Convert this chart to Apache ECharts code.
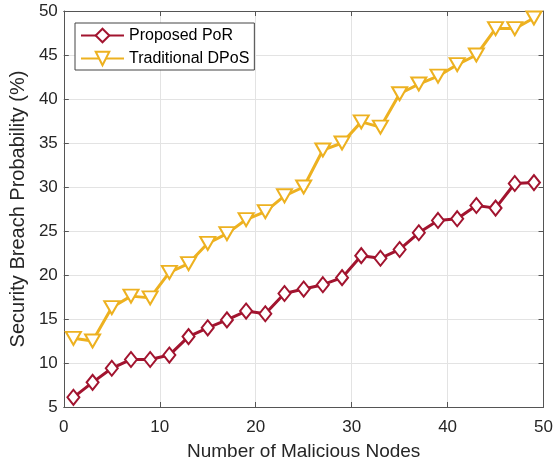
<!DOCTYPE html>
<html>
<head>
<meta charset="utf-8">
<script src="https://cdn.jsdelivr.net/npm/echarts@6/dist/echarts.min.js"></script>
<style>
html,body{margin:0;padding:0;background:#fff;}
#chart{width:556px;height:466px;}
</style>
</head>
<body>
<div id="chart"></div>
<script>
const nodeCounts = [1,3,5,7,9,11,13,15,17,19,21,23,25,27,29,31,33,35,37,39,41,43,45,47,49];
const porValues = [6.1,7.8,9.4,10.4,10.4,10.9,13.0,14.0,14.9,15.9,15.6,17.9,18.4,18.9,19.7,22.2,21.9,22.9,24.8,26.2,26.4,27.9,27.6,30.4,30.5];
const dposValues = [12.8,12.5,16.3,17.6,17.4,20.3,21.3,23.6,24.7,26.3,27.2,29.0,30.0,34.2,35.0,37.4,36.8,40.6,41.7,42.6,43.9,45.0,48.0,48.0,49.2];
const seriesNames = ['Proposed PoR', 'Traditional DPoS'];
const xTitle = 'Number of Malicious Nodes';
const yTitle = 'Security Breach Probability (%)';

const FONT = "'Liberation Sans', Arial, Helvetica, sans-serif";
const TXT = '#262626';
const AX = '#555555';
const GRIDC = '#e3e3e3';

function pairs(vals){ return nodeCounts.map((x,i)=>[x, vals[i]]); }

const chart = echarts.init(document.getElementById('chart'), null, {renderer:'canvas'});
chart.setOption({
  animation: false,
  backgroundColor: '#fff',
  textStyle: {fontFamily: FONT},
  grid: {left: 63, right: 8, top: 11, bottom: 58, containLabel: false},
  legend: {
    orient: 'vertical', left: 75, top: 23,
    backgroundColor: '#fff', borderColor: '#444', borderWidth: 1,
    padding: [4, 5, 3, 5], itemGap: 6, itemWidth: 43, itemHeight: 17,
    textStyle: {fontSize: 16, color: '#000', fontFamily: FONT, lineHeight: 17},
    data: seriesNames
  },
  xAxis: [{
    type: 'value', min: 0, max: 50, interval: 10,
    name: xTitle, nameLocation: 'middle', nameGap: 35,
    nameTextStyle: {fontSize: 19, color: TXT, fontFamily: FONT},
    axisLine: {show: true, onZero: false, lineStyle: {color: AX, width: 1}},
    axisTick: {show: true, inside: true, length: 5, lineStyle: {color: AX}},
    axisLabel: {fontSize: 17, color: TXT, margin: 12, fontFamily: FONT},
    splitLine: {show: true, lineStyle: {color: GRIDC, width: 1}}
  }, {
    type: 'value', min: 0, max: 50, interval: 10, position: 'top',
    axisLine: {show: true, onZero: false, lineStyle: {color: AX, width: 1}},
    axisTick: {show: true, inside: true, length: 5, lineStyle: {color: AX}},
    axisLabel: {show: false}, splitLine: {show: false}
  }],
  yAxis: [{
    type: 'value', min: 5, max: 50, interval: 5,
    name: yTitle, nameLocation: 'middle', nameGap: 27, nameRotate: 90,
    nameTextStyle: {fontSize: 20, color: TXT, fontFamily: FONT},
    axisLine: {show: true, onZero: false, lineStyle: {color: AX, width: 1}},
    axisTick: {show: true, inside: true, length: 5, lineStyle: {color: AX}},
    axisLabel: {fontSize: 17, color: TXT, margin: 6, fontFamily: FONT},
    splitLine: {show: true, lineStyle: {color: GRIDC, width: 1}}
  }, {
    type: 'value', min: 5, max: 50, interval: 5, position: 'right',
    axisLine: {show: true, onZero: false, lineStyle: {color: AX, width: 1}},
    axisTick: {show: true, inside: true, length: 5, lineStyle: {color: AX}},
    axisLabel: {show: false}, splitLine: {show: false}
  }],
  series: [{
    name: seriesNames[0], type: 'line', data: pairs(porValues),
    symbol: 'emptyDiamond', symbolSize: [12, 15],
    lineStyle: {color: '#A2142F', width: 3},
    itemStyle: {color: '#A2142F', borderWidth: 2.5},
    z: 3
  }, {
    name: seriesNames[1], type: 'line', data: pairs(dposValues),
    symbol: 'emptyTriangle', symbolRotate: 180, symbolSize: [15, 13],
    lineStyle: {color: '#EDB120', width: 3},
    itemStyle: {color: '#EDB120', borderWidth: 2.5},
    z: 2
  }]
});
</script>
</body>
</html>
